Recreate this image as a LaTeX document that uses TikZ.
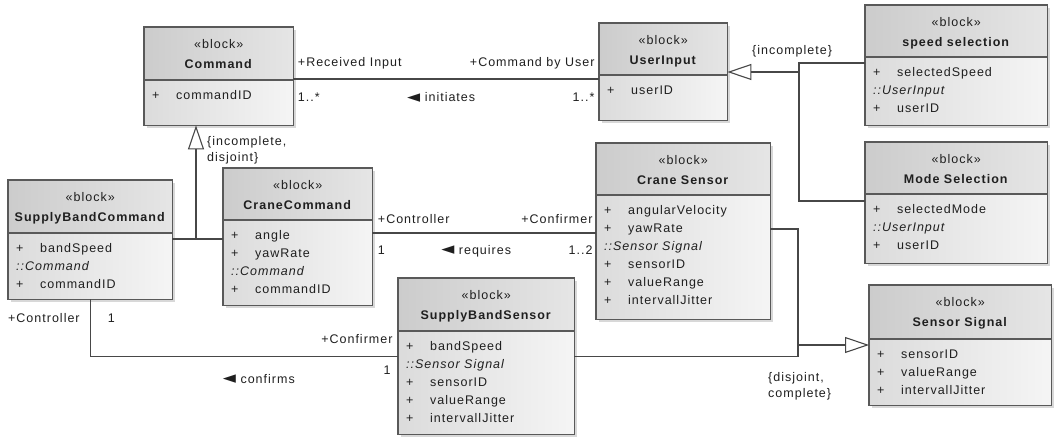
\documentclass[tikz,border=0pt]{standalone}
\usepackage{fontspec}
\setmainfont[LetterSpace=8]{Liberation Sans}
\newfontfamily\symfont{DejaVu Sans}
\usetikzlibrary{arrows.meta,shadows}

\tikzset{
  block/.style={anchor=north west, inner sep=0pt, left color=black!14, right color=black!4,
    drop shadow={shadow xshift=3pt, shadow yshift=-3pt, fill=black!30}},
  blockline/.style={draw=black!65, line width=1.1pt},
  head/.style={font=\fontsize{12.5}{20}\selectfont, align=center, inner sep=0pt, text=black!88},
  attrs/.style={font=\fontsize{12.5}{18}\selectfont, align=left, inner xsep=8pt, inner ysep=7pt, text=black!88},
  conn/.style={draw=black!72, line width=1.1pt},
  gen/.style={conn, -{Triangle[open, length=24pt, width=16pt]}},
  lbl/.style={font=\fontsize{12.5}{16}\selectfont, inner sep=0pt, text=black!88},
}

% one attribute line, one inherited-from line
\newcommand\attr[1]{\strut\makebox[24pt][l]{+}#1}
\newcommand\inh[1]{\strut\textit{::#1}}
\newcommand\lft{{\symfont\fontsize{17}{16}\selectfont\raisebox{-0.5pt}{◄}}}

% #1 name, #2 x, #3 y, #4 width, #5 height, #6 header height, #7 title, #8 attributes
\newcommand\umlblock[8]{%
  \node[block, minimum width=#4pt, minimum height=#5pt] (#1) at (#2,#3) {};
  \shade[left color=black!20, right color=black!10] (#1.north west) rectangle ([yshift=-#6pt]#1.north east);
  \draw[blockline] (#1.north west) rectangle (#1.south east);
  \draw[blockline] ([yshift=-#6pt]#1.north west) -- ([yshift=-#6pt]#1.north east);
  \node[head, anchor=north] (#1-head) at ([yshift=-7pt]#1.north) {\strut«block»\\\strut\textbf{#7}};
  \node[attrs, anchor=north west] (#1-attrs) at ([yshift=-#6pt]#1.north west) {#8};
}

\begin{document}
\begin{tikzpicture}[x=1pt, y=-1pt]
  \useasboundingbox (0,0) rectangle (1056,438);

  \umlblock{cmd}{144}{27}{149}{98}{53}{Command}{\attr{commandID}}
  \umlblock{user}{599}{23}{128}{97}{52}{UserInput}{\attr{userID}}
  \umlblock{speed}{865}{5}{182}{120}{52}{speed selection}{\attr{selectedSpeed}\\\inh{UserInput}\\\attr{userID}}
  \umlblock{mode}{865}{142}{182}{121}{52}{Mode Selection}{\attr{selectedMode}\\\inh{UserInput}\\\attr{userID}}
  \umlblock{sbc}{8}{180}{164}{119}{53}{SupplyBandCommand}{\attr{bandSpeed}\\\inh{Command}\\\attr{commandID}}
  \umlblock{crc}{223}{168}{149}{137}{52}{CraneCommand}{\attr{angle}\\\attr{yawRate}\\\inh{Command}\\\attr{commandID}}
  \umlblock{crs}{596}{143}{174}{176}{52}{Crane Sensor}{\attr{angularVelocity}\\\attr{yawRate}\\\inh{Sensor Signal}\\\attr{sensorID}\\\attr{valueRange}\\\attr{intervallJitter}}
  \umlblock{sbs}{398}{278}{176}{156}{53}{SupplyBandSensor}{\attr{bandSpeed}\\\inh{Sensor Signal}\\\attr{sensorID}\\\attr{valueRange}\\\attr{intervallJitter}}
  \umlblock{sig}{869}{285}{182}{120}{54}{Sensor Signal}{\attr{sensorID}\\\attr{valueRange}\\\attr{intervallJitter}}

  % associations
  \coordinate (cmdR) at ([yshift=-52pt]cmd.north east);
  \draw[conn] (cmdR) -- (cmdR -| user.west)
    node[lbl, pos=0, anchor=base west, xshift=4pt, yshift=12pt] (ri) {+Received Input}
    node[lbl, pos=0, anchor=base west, xshift=4pt, yshift=-23pt] (rim) {1..*}
    node[lbl, pos=1, anchor=base east, xshift=-4pt, yshift=12pt] (cbu) {+Command by User}
    node[lbl, pos=1, anchor=base east, xshift=-4pt, yshift=-23pt] (cbum) {1..*}
    node[lbl, midway, anchor=base, xshift=-5pt, yshift=-23pt] (initiates) {\lft\ initiates};

  \coordinate (crcR) at ([yshift=-65pt]crc.north east);
  \draw[conn] (crcR) -- (crcR -| crs.west)
    node[lbl, pos=0, anchor=base west, xshift=5pt, yshift=10pt] (ctrl) {+Controller}
    node[lbl, pos=0, anchor=base west, xshift=5pt, yshift=-21pt] (ctrlm) {1}
    node[lbl, pos=1, anchor=base east, xshift=-3pt, yshift=10pt] (conf) {+Confirmer}
    node[lbl, pos=1, anchor=base east, xshift=-3pt, yshift=-21pt] (confm) {1..2}
    node[lbl, midway, anchor=base, xshift=-8pt, yshift=-21pt] (requires) {\lft\ requires};

  \draw[conn] (sbc.south) |- (sbs.west)
    node[lbl, pos=0, anchor=base east, xshift=-10pt, yshift=-23pt] (bctrl) {+Controller}
    node[lbl, pos=0, anchor=base west, xshift=17pt, yshift=-23pt] (bctrlm) {1}
    node[lbl, pos=1, anchor=base east, xshift=-5pt, yshift=13pt] (bconf) {+Confirmer}
    node[lbl, pos=1, anchor=base east, xshift=-7pt, yshift=-18pt] (bconfm) {1}
    node[lbl, pos=0.774, anchor=base, yshift=-27pt] (confirms) {\lft\ confirms};

  % generalizations
  \coordinate (ujoin) at (799,72);
  \draw[conn] ([yshift=-58pt]speed.north west) -| (ujoin);
  \draw[conn] ([yshift=-59pt]mode.north west) -| (ujoin);
  \draw[gen] (ujoin) -- (ujoin -| user.east);
  \node[lbl, anchor=base west] (incl) at (752,55) {\{incomplete\}};

  \coordinate (cjoin) at (196,239);
  \draw[conn] (cjoin -| sbc.east) -- (cjoin -| crc.west);
  \draw[gen] (cjoin) -- (cjoin |- cmd.south);
  \node[lbl, anchor=north west, align=left] (incdis) at (207,134) {\strut\{incomplete,\\\strut disjoint\}};

  \coordinate (sjoin) at (798,345);
  \draw[conn] ([yshift=-86pt]crs.north east) -| (sjoin);
  \draw[conn] (sbs.east) -| (sjoin);
  \draw[gen] (sjoin) -- (sjoin -| sig.west);
  \node[lbl, anchor=north west, align=left] (discom) at (768,370) {\strut\{disjoint,\\\strut complete\}};
\end{tikzpicture}
\end{document}
